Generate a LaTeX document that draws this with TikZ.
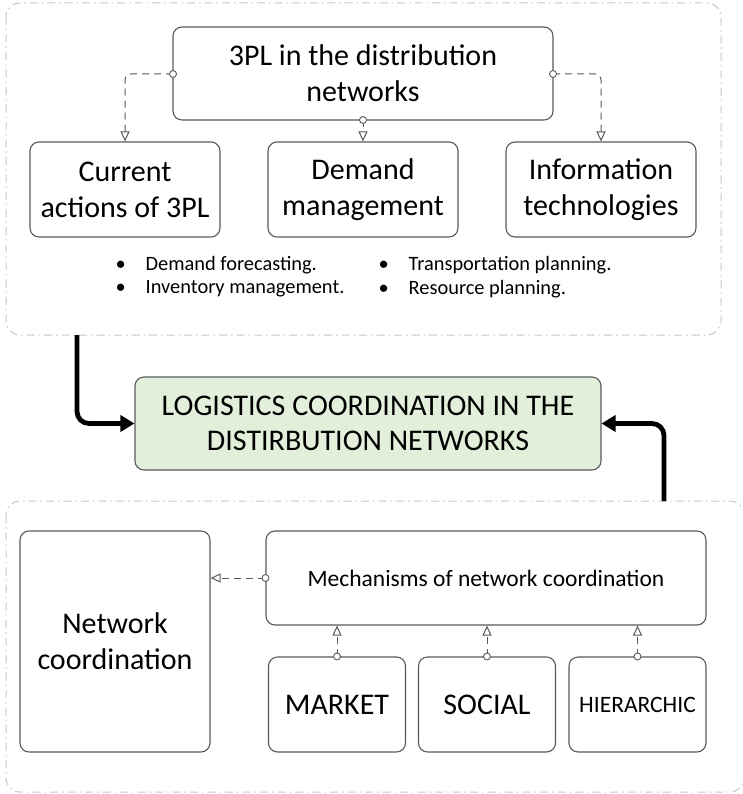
\documentclass[tikz,border=0pt]{standalone}
\usepackage{fontspec}
\setmainfont{Carlito}
\usetikzlibrary{arrows.meta,positioning}
\definecolor{lightgreen}{HTML}{E2EFDA}
\begin{document}
\begin{tikzpicture}[x=1pt,y=-1pt,
  box/.style={draw=black!65,line width=1.1pt,rounded corners=9pt,align=center,inner sep=2pt},
  grp/.style={draw=black!22,line width=1pt,rounded corners=14pt,dash pattern=on 8pt off 4pt on 1.5pt off 4pt},
  conn/.style={draw=black!65,line width=1pt,dash pattern=on 7pt off 5pt,rounded corners=6pt,-{Triangle[open,length=10pt,width=9pt]}},
  sconn/.style={draw=black!65,line width=1pt,dash pattern=on 7pt off 5pt,-{Triangle[open,length=10pt,width=9pt]}},
  dot/.style={circle,draw=black!65,line width=0.9pt,fill=white,inner sep=0pt,minimum size=7pt},
  thick/.style={draw=black,line width=4.8pt,rounded corners=12pt,-{Triangle[length=14pt,width=16pt]}},
  big/.style={font=\fontsize{30}{36}\selectfont},
  mid/.style={font=\fontsize{30}{35}\selectfont},
  med/.style={font=\fontsize{23.5}{28}\selectfont},
  small/.style={font=\fontsize{20.4}{24}\selectfont}]
\useasboundingbox (0,0) rectangle (742,794);
% groups
\draw[grp] (6,3) rectangle (721,335);
\draw[grp] (6,501) rectangle (744,792);
% top boxes
\node[box,big,minimum width=380pt,minimum height=93pt] (top) at (363,73.5) {3PL in the distribution\\networks};
\node[box,big,minimum width=190pt,minimum height=95pt] (cur) at (125,189.5) {Current\\actions of 3PL};
\node[box,big,minimum width=190pt,minimum height=95pt] (dem) at (363,189.5) {Demand\\management};
\node[box,big,minimum width=190pt,minimum height=95pt] (inf) at (601,189.5) {Information\\technologies};
% bullets
\node[small,anchor=west] (b1) at (112,265) {\textbullet\hspace{20pt}Demand forecasting.};
\node[small,anchor=west] (b2) at (112,289) {\textbullet\hspace{20pt}Inventory management.};
\node[small,anchor=west] (b3) at (375,265) {\textbullet\hspace{20pt}Transportation planning.};
\node[small,anchor=west] (b4) at (375,289) {\textbullet\hspace{20pt}Resource planning.};
% connectors top
\coordinate (tl) at (173,74);
\coordinate (tr) at (553,74);
\coordinate (tm) at (363,120);
\draw[conn] (tl) -| (cur.north);
\draw[conn] (tr) -| (inf.north);
\draw[sconn] (tm) -- (dem.north);
\node[dot] (d1) at (tl) {};
\node[dot] (d2) at (tr) {};
\node[dot] (d3) at (tm) {};
% center
\node[box,mid,fill=lightgreen,minimum width=466pt,minimum height=93pt] (log) at (368,423.5) {LOGISTICS COORDINATION IN THE\\DISTIRBUTION NETWORKS};
\coordinate (s1) at (77,335);
\coordinate (s2) at (664,501);
\draw[thick] (s1) |- (log.west);
\draw[thick] (s2) |- (log.east);
% bottom
\node[box,big,minimum width=190pt,minimum height=221pt] (net) at (115,641.5) {Network\\coordination};
\node[box,med,minimum width=440pt,minimum height=94pt] (mech) at (486,578) {Mechanisms of network coordination};
\node[box,big,minimum width=137pt,minimum height=95pt] (mkt) at (337,704.5) {MARKET};
\node[box,big,minimum width=137pt,minimum height=95pt] (soc) at (487,704.5) {SOCIAL};
\node[box,med,minimum width=137pt,minimum height=95pt] (hie) at (637.5,704.5) {HIERARCHIC};
\coordinate (mw) at (mech.west);
\draw[sconn] (mw) -- (mw -| net.east);
\node[dot] at (mw) {};
\foreach \b in {mkt,soc,hie}{
  \draw[sconn] (\b.north) -- (\b.north|-mech.south);
  \node[dot] at (\b.north) {};
}
\end{tikzpicture}
\end{document}
